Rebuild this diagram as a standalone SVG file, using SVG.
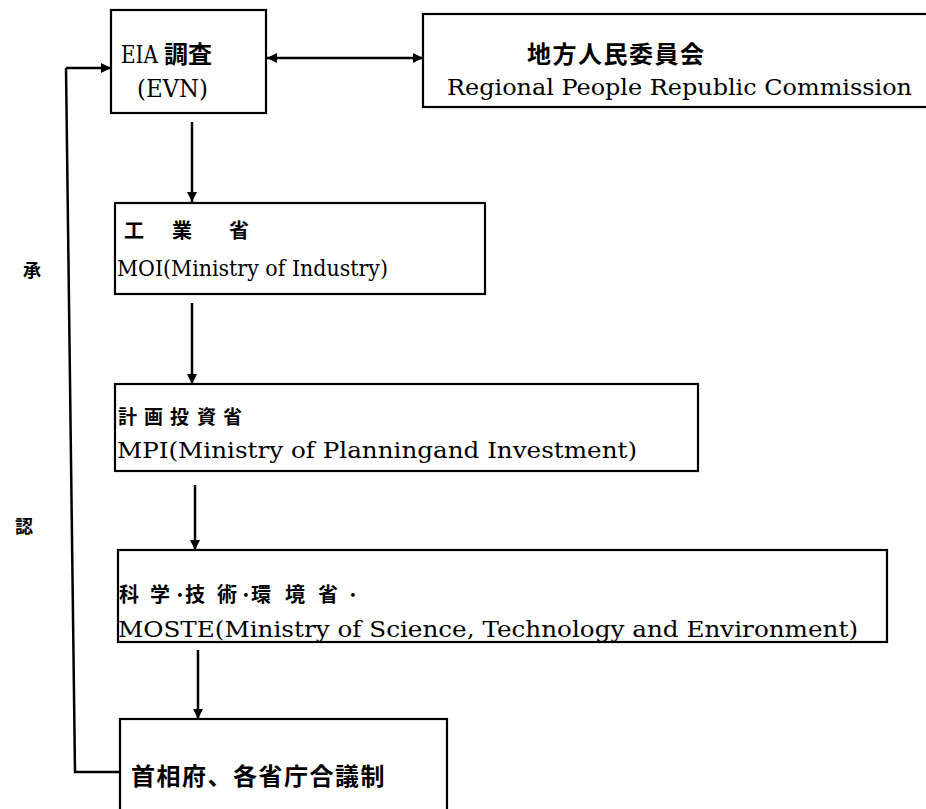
<svg xmlns="http://www.w3.org/2000/svg" width="926" height="809" viewBox="0 0 926 809">
<defs>
<marker id="ah" viewBox="0 0 10 10" refX="10" refY="5" markerWidth="10" markerHeight="10" markerUnits="userSpaceOnUse" orient="auto-start-reverse"><path d="M0,0 L10,5 L0,10 Z" fill="#000"/></marker>
</defs>
<style>
.box{fill:#fff;stroke:#000;stroke-width:2.2}
.ln{fill:none;stroke:#000;stroke-width:2.5}
.en{font-family:"DejaVu Serif","Liberation Serif",serif;font-size:22px;fill:#000}
.jp{font-family:"Noto Sans CJK JP","Noto Sans CJK SC",sans-serif;font-weight:bold;fill:#000}
</style>
<rect width="926" height="809" fill="#fff"/>
<g id="connectors">
<path class="ln" d="M267,58 L423,58" marker-start="url(#ah)" marker-end="url(#ah)"/>
<path class="ln" d="M66,68 L111,68" marker-end="url(#ah)"/>
<path class="ln" d="M66,68 L75,772 L120,772"/>
<path class="ln" d="M192,122 L192,202" marker-end="url(#ah)"/>
<path class="ln" d="M192,303 L192,384" marker-end="url(#ah)"/>
<path class="ln" d="M195,485 L195,550" marker-end="url(#ah)"/>
<path class="ln" d="M198,650 L198,719" marker-end="url(#ah)"/>
</g>
<g id="label-sho"><text class="jp" x="23" y="277" style="font-size:18px">承</text></g>
<g id="label-nin"><text class="jp" x="15" y="533" style="font-size:18px">認</text></g>
<g id="eia">
<rect class="box" x="111" y="10" width="155" height="103"/>
<text class="en" x="121" y="63" style="font-size:25px" textLength="37" lengthAdjust="spacingAndGlyphs">EIA</text>
<text class="jp" x="164" y="63" style="font-size:24px">調査</text>
<text class="en" x="137" y="97" style="font-size:25px" textLength="71" lengthAdjust="spacingAndGlyphs">(EVN)</text>
</g>
<g id="regional">
<rect class="box" x="423" y="14" width="510" height="93"/>
<text class="jp" x="527" y="63" style="font-size:24px;letter-spacing:1.5px">地方人民委員会</text>
<text class="en" x="447" y="95" textLength="465" lengthAdjust="spacingAndGlyphs">Regional People Republic Commission</text>
</g>
<g id="moi">
<rect class="box" x="115" y="203" width="370" height="91"/>
<text class="jp" x="124" y="238" style="font-size:20px">工<tspan x="172">業</tspan><tspan x="229">省</tspan></text>
<text class="en" x="117" y="276" textLength="271" lengthAdjust="spacingAndGlyphs">MOI(Ministry of Industry)</text>
</g>
<g id="mpi">
<rect class="box" x="115" y="384" width="583" height="87"/>
<text class="jp" x="118" y="424" style="font-size:19px">計<tspan x="144">画</tspan><tspan x="170">投</tspan><tspan x="197">資</tspan><tspan x="223">省</tspan></text>
<text class="en" x="117" y="458" textLength="520" lengthAdjust="spacingAndGlyphs">MPI(Ministry of Planningand Investment)</text>
</g>
<g id="moste">
<rect class="box" x="118" y="550" width="769" height="92"/>
<text class="jp" x="119" y="602" style="font-size:20px">科<tspan x="150">学</tspan><tspan x="174">·</tspan><tspan x="185">技</tspan><tspan x="217">術</tspan><tspan x="240">·</tspan><tspan x="251">環</tspan><tspan x="285">境</tspan><tspan x="318">省</tspan><tspan x="347">·</tspan></text>
<text class="en" x="118" y="637" textLength="740" lengthAdjust="spacingAndGlyphs">MOSTE(Ministry of Science, Technology and Environment)</text>
</g>
<g id="pm">
<rect class="box" x="120" y="719" width="327" height="100"/>
<text class="jp" x="131" y="785" style="font-size:24px;letter-spacing:1.5px">首相府、各省庁合議制</text>
</g>
</svg>
